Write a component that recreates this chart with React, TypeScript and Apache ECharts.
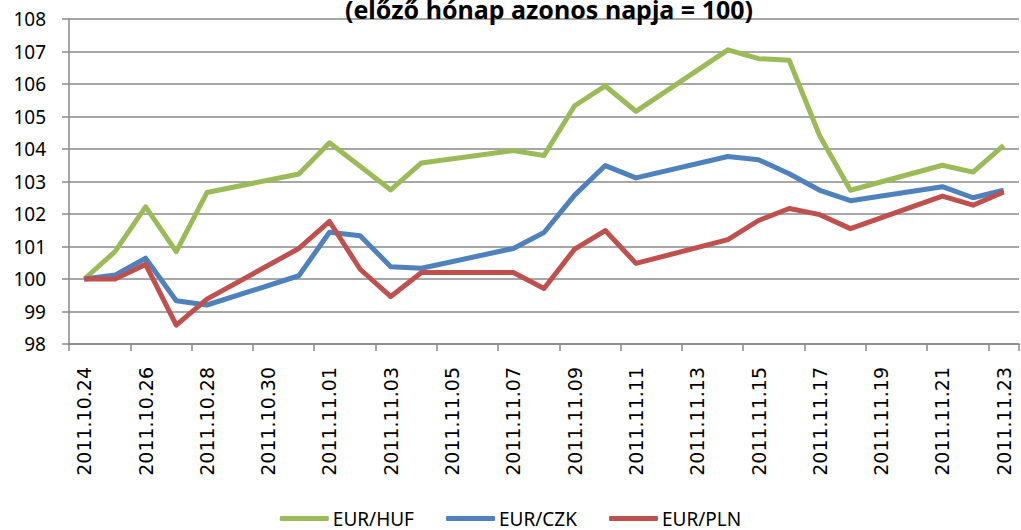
import React, { useEffect, useRef } from "react";
import * as echarts from "echarts";

const titleText = "(előző hónap azonos napja = 100)";

const dates = [
  "2011.10.24", "2011.10.25", "2011.10.26", "2011.10.27", "2011.10.28", "2011.10.29", "2011.10.30",
  "2011.10.31", "2011.11.01", "2011.11.02", "2011.11.03", "2011.11.04", "2011.11.05", "2011.11.06",
  "2011.11.07", "2011.11.08", "2011.11.09", "2011.11.10", "2011.11.11", "2011.11.12", "2011.11.13",
  "2011.11.14", "2011.11.15", "2011.11.16", "2011.11.17", "2011.11.18", "2011.11.19", "2011.11.20",
  "2011.11.21", "2011.11.22", "2011.11.23",
];

const seriesNames = ["EUR/HUF", "EUR/CZK", "EUR/PLN"];

const eurHuf = [
  100, 100.84, 102.22, 100.84, 102.66, null, null,
  103.23, 104.19, 103.47, 102.74, 103.57, null, null,
  103.95, 103.8, 105.33, 105.94, 105.16, null, null,
  107.05, 106.78, 106.73, 104.4, 102.73, null, null,
  103.5, 103.29, 104.11,
];

const eurCzk = [
  100, 100.12, 100.64, 99.33, 99.2, null, null,
  100.1, 101.44, 101.33, 100.38, 100.33, null, null,
  100.94, 101.43, 102.58, 103.49, 103.11, null, null,
  103.77, 103.67, 103.24, 102.73, 102.41, null, null,
  102.84, 102.5, 102.73,
];

const eurPln = [
  100, 100, 100.45, 98.58, 99.38, null, null,
  100.94, 101.77, 100.3, 99.46, 100.2, null, null,
  100.2, 99.71, 100.92, 101.49, 100.48, null, null,
  101.21, 101.8, 102.17, 101.98, 101.55, null, null,
  102.55, 102.27, 102.68,
];

const colors = ["#9BBB59", "#4F81BD", "#C0504D"];

export default function App() {
  const ref = useRef<HTMLDivElement>(null);
  useEffect(() => {
    document.body.style.margin = "0";
    const chart = echarts.init(ref.current!, null, { renderer: "svg" });
    const values = [eurHuf, eurCzk, eurPln];
    chart.setOption({
      animation: false,
      backgroundColor: "#ffffff",
      title: {
        text: titleText,
        left: 544,
        textAlign: "center",
        top: -9,
        textStyle: {
          fontFamily: "Noto Sans",
          fontWeight: "bold",
          fontSize: 25,
          color: "#000",
        },
      },
      grid: { left: 69, right: 2, top: 19, bottom: 186, containLabel: false },
      legend: {
        data: seriesNames,
        top: 504,
        left: "center",
        icon: "roundRect",
        itemWidth: 49,
        itemHeight: 5,
        itemGap: 32,
        textStyle: { fontFamily: "Noto Sans", fontSize: 19, color: "#000", padding: [0, 0, 0, -1] },
      },
      xAxis: {
        type: "category",
        data: dates,
        boundaryGap: true,
        axisLine: { lineStyle: { color: "#8a8a8a", width: 1.5 } },
        axisTick: { show: true, interval: 1, length: 7, lineStyle: { color: "#8a8a8a", width: 1.5 } },
        axisLabel: {
          interval: 1,
          rotate: 90,
          margin: 23,
          fontFamily: "DejaVu Sans",
          fontSize: 19,
          color: "#000",
        },
        splitLine: { show: false },
      },
      yAxis: {
        type: "value",
        min: 98,
        max: 108,
        interval: 1,
        axisLine: { show: true, lineStyle: { color: "#8a8a8a", width: 1.5 } },
        axisTick: { show: true, length: 7, lineStyle: { color: "#8a8a8a", width: 1.5 } },
        axisLabel: {
          margin: 23,
          fontFamily: "Noto Sans",
          fontSize: 19,
          color: "#000",
        },
        splitLine: { lineStyle: { color: "#8a8a8a", width: 1.5 } },
      },
      series: seriesNames.map((name, i) => ({
        name,
        type: "line",
        data: values[i],
        connectNulls: true,
        showSymbol: false,
        symbol: "none",
        color: colors[i],
        lineStyle: { color: colors[i], width: 5, join: "round" },
        itemStyle: { color: colors[i] },
        z: 2 + i,
      })),
    });
    return () => chart.dispose();
  }, []);
  return <div ref={ref} style={{ position: "absolute", left: 0, top: 0, width: 1021, height: 530 }} />;
}
